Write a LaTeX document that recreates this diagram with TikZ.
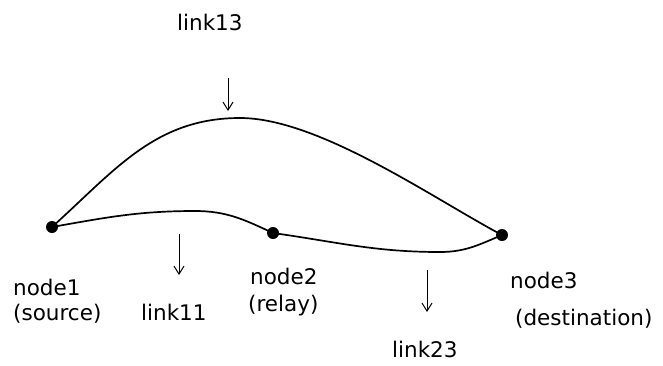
\documentclass[tikz,border=0pt]{standalone}
\usepackage{fontspec}
\setmainfont{DejaVu Sans}
\usetikzlibrary{arrows.meta}
\begin{document}
\begin{tikzpicture}[x=1pt,y=1pt,
  dot/.style={circle,fill=black,inner sep=0pt,minimum size=12pt},
  link/.style={line width=1.7pt},
  pointer/.style={line width=1pt,-{Straight Barb[length=8pt,width=10pt,line width=1pt]}},
  lbl/.style={anchor=base west,inner sep=0pt,font=\fontsize{21.5}{26}\selectfont}]
\useasboundingbox (0,0) rectangle (663,-365);
\node[dot] (n1) at (52,-227) {};
\node[dot] (n2) at (273,-233) {};
\node[dot] (n3) at (502,-235) {};
\draw[link] (n1.center) to[out=42,in=180] (240,-118) to[out=0,in=152,looseness=0.7] (n3.center);
\draw[link] (n1.center) to[out=10,in=180] (195,-211) to[out=0,in=155] (n2.center);
\draw[link] (n2.center) to[out=-8,in=180] (440,-252) to[out=0,in=203] (n3.center);
\coordinate (a13s) at (228,-78);
\coordinate (a13e) at (228,-111);
\coordinate (a11s) at (179,-234);
\coordinate (a11e) at (179,-275);
\coordinate (a23s) at (427,-270);
\coordinate (a23e) at (427,-312);
\draw[pointer] (a13s) -- (a13e);
\draw[pointer] (a11s) -- (a11e);
\draw[pointer] (a23s) -- (a23e);
\node[lbl] (t13) at (177,-30) {link13};
\node[lbl] (tn1) at (13,-295) {node1};
\node[lbl] (ts1) at (13,-320) {(source)};
\node[lbl] (t11) at (141,-320) {link11};
\node[lbl] (tn2) at (250,-284) {node2};
\node[lbl] (ts2) at (248,-311) {(relay)};
\node[lbl] (tn3) at (510,-288) {node3};
\node[lbl] (ts3) at (515,-325) {(destination)};
\node[lbl] (t23) at (392,-357) {link23};
\end{tikzpicture}
\end{document}
